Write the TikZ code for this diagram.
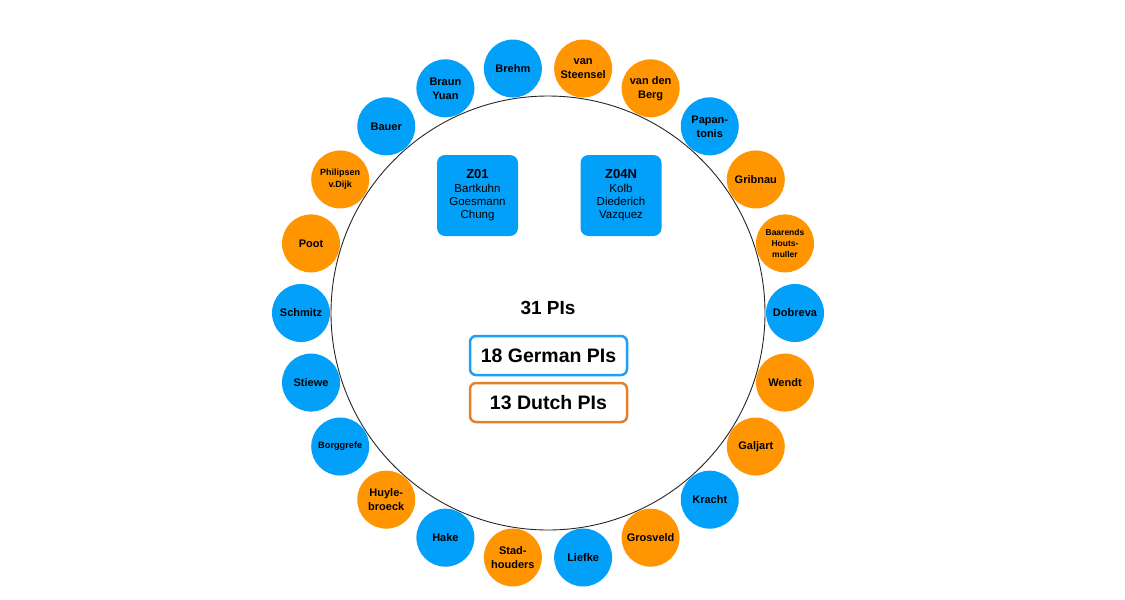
\documentclass[tikz,border=0pt]{standalone}
\usepackage{fontspec}
\setmainfont{Liberation Sans}
\usetikzlibrary{calc}
\definecolor{piblue}{RGB}{3,160,250}
\definecolor{piorange}{RGB}{255,149,0}
\definecolor{legblue}{RGB}{30,160,245}
\definecolor{legorange}{RGB}{228,128,40}
\begin{document}
\begin{tikzpicture}[x=1pt,y=-1pt,
  pi/.style={circle,minimum size=58pt,inner sep=0pt,align=center,font=\bfseries\fontsize{11}{14}\selectfont},
  pibox/.style={rounded corners=8pt,fill=piblue,minimum width=81pt,minimum height=81pt,inner sep=0pt,align=center,font=\fontsize{11.5}{13}\selectfont},
  legbox/.style={rounded corners=6pt,line width=2.5pt,minimum width=157pt,minimum height=39pt,inner sep=0pt,font=\bfseries\fontsize{19.5}{22}\selectfont}]
\useasboundingbox (0,0) rectangle (1125,600);
\coordinate (c) at (548,313);
\node[circle,draw=black!85,line width=0.9pt,minimum size=434pt,inner sep=0pt] (big) at (c) {};
\foreach \k/\col/\txt/\fs/\bs in {
 0/piblue/{Brehm}/11/14,
 1/piorange/{van\\Steensel}/11/14,
 2/piorange/{van den\\Berg}/11/14,
 3/piblue/{Papan-\\tonis}/11/14,
 4/piorange/{Gribnau}/11/14,
 5/piorange/{Baarends\\Houts-\\muller}/8.5/10.7,
 6/piblue/{Dobreva}/11/14,
 7/piorange/{Wendt}/11/14,
 8/piorange/{Galjart}/11/14,
 9/piblue/{Kracht}/11/14,
 10/piorange/{Grosveld}/11/14,
 11/piblue/{Liefke}/11/14,
 12/piorange/{Stad-\\houders}/11/14,
 13/piblue/{Hake}/11/14,
 14/piorange/{Huyle-\\broeck}/11/14,
 15/piblue/{Borggrefe}/9.2/12,
 16/piblue/{Stiewe}/11/14,
 17/piblue/{Schmitz}/11/14,
 18/piorange/{Poot}/11/14,
 19/piorange/{Philipsen\\v.Dijk}/9/12,
 20/piblue/{Bauer}/11/14,
 21/piblue/{Braun\\Yuan}/11/14}
{
  \node[pi,fill=\col,font=\bfseries\fontsize{\fs}{\bs}\selectfont] (n\k) at ($(c)+({98.18-16.3636*\k}:247pt)$) {\txt};
}
\node[pibox] (z01) at (477.5,195.5) {{\bfseries\fontsize{13}{16}\selectfont Z01}\\[1pt]Bartkuhn\\Goesmann\\Chung};
\node[pibox] (z04) at (621,195.5) {{\bfseries\fontsize{13}{16}\selectfont Z04N}\\[1pt]Kolb\\Diederich\\Vazquez};
\node[font=\bfseries\fontsize{19}{22}\selectfont] (total) at (548,308) {31 PIs};
\node[legbox,draw=legblue] (german) at (548.5,355.5) {18 German PIs};
\node[legbox,draw=legorange] (dutch) at (548.5,402.5) {13 Dutch PIs};
\end{tikzpicture}
\end{document}
